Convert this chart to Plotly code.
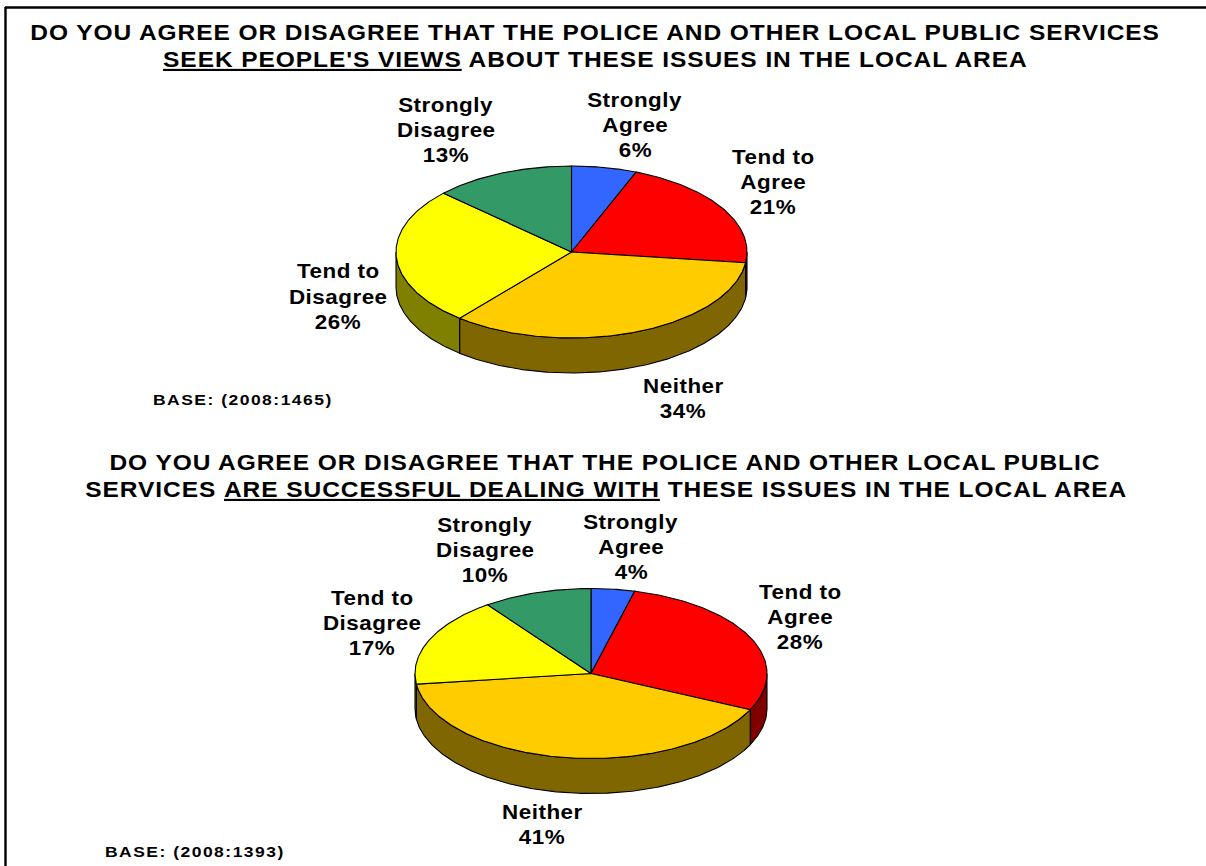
import math
import plotly.graph_objects as go

categories = ["Strongly Agree", "Tend to Agree", "Neither", "Tend to Disagree", "Strongly Disagree"]
values_seek = [6, 21, 34, 26, 13]
values_success = [4, 28, 41, 17, 10]
top_colors = ["#3366FF", "#FF0000", "#FFCC00", "#FFFF00", "#339966"]
side_colors = ["#1A3380", "#800000", "#806600", "#808000", "#1A4D33"]

title_seek = ["DO YOU AGREE OR DISAGREE THAT THE POLICE AND OTHER LOCAL PUBLIC SERVICES",
              "<u>SEEK PEOPLE'S VIEWS</u> ABOUT THESE ISSUES IN THE LOCAL AREA"]
title_success = ["DO YOU AGREE OR DISAGREE THAT THE POLICE AND OTHER LOCAL PUBLIC",
                 "SERVICES <u>ARE SUCCESSFUL DEALING WITH</u> THESE ISSUES IN THE LOCAL AREA"]
base_seek = "BASE: (2008:1465)"
base_success = "BASE: (2008:1393)"

FONT = "Liberation Sans, Arial, sans-serif"
W, H = 1206, 866
fig = go.Figure()


def pt(cx, cy, rx, ry, deg, dz=0):
    a = math.radians(deg)
    return cx + rx * math.sin(a), cy - ry * math.cos(a) + dz


def arc(cx, cy, rx, ry, a0, a1, dz=0):
    n = max(2, int(abs(a1 - a0) * 1.5) + 1)
    pts = [pt(cx, cy, rx, ry, a0 + (a1 - a0) * i / (n - 1), dz) for i in range(n)]
    return [p[0] for p in pts], [p[1] for p in pts]


def add_poly(xs, ys, fill, name):
    fig.add_trace(go.Scatter(x=xs + xs[:1], y=ys + ys[:1], mode="lines", fill="toself",
                             fillcolor=fill, line=dict(color="#000000", width=1.1),
                             name=name, showlegend=False, hoverinfo="name"))


def add_pie(values, cx, cy, rx, ry, depth):
    total = sum(values)
    edges = [0]
    for v in values:
        edges.append(edges[-1] + 360 * v / total)
    for i, name in enumerate(categories):
        a0, a1 = max(edges[i], 90), min(edges[i + 1], 270)
        if a1 <= a0:
            continue
        tx, ty = arc(cx, cy, rx, ry, a0, a1)
        bx, by = arc(cx, cy, rx, ry, a1, a0, depth)
        add_poly(tx + bx, ty + by, side_colors[i], name)
    for i, name in enumerate(categories):
        tx, ty = arc(cx, cy, rx, ry, edges[i], edges[i + 1])
        add_poly([cx] + tx, [cy] + ty, top_colors[i], name)


add_pie(values_seek, 571.5, 252, 175.5, 86, 35)
add_pie(values_success, 591, 673.5, 176, 85, 35)


def text(x, y, s, size, anchor="center"):
    fig.add_annotation(x=x, y=y, xref="x", yref="y", text=s, showarrow=False,
                       xanchor=anchor, yanchor="middle", align="center",
                       font=dict(family=FONT, size=size, color="#000000"))


def bold(s):
    return "<b>" + s + "</b>"


TS = 21.5
text(595, 33, bold(title_seek[0]), TS)
text(595, 60, bold(title_seek[1]), TS)
text(605, 463, bold(title_success[0]), TS)
text(606, 490, bold(title_success[1]), TS)

LS = 20


def label(x, ys, lines):
    for y, s in zip(ys, lines):
        text(x, y, bold(s), LS)


def pct(v):
    return str(v) + "%"


label(635, [100, 125, 150], ["Strongly", "Agree", pct(values_seek[0])])
label(773, [157, 182, 207], ["Tend to", "Agree", pct(values_seek[1])])
label(683, [386, 411], ["Neither", pct(values_seek[2])])
label(338, [271, 297, 322], ["Tend to", "Disagree", pct(values_seek[3])])
label(446, [105, 130, 155], ["Strongly", "Disagree", pct(values_seek[4])])

label(631, [522, 547, 572], ["Strongly", "Agree", pct(values_success[0])])
label(800, [592, 617, 642], ["Tend to", "Agree", pct(values_success[1])])
label(542, [812, 837], ["Neither", pct(values_success[2])])
label(372, [598, 623, 648], ["Tend to", "Disagree", pct(values_success[3])])
label(485, [525, 550, 575], ["Strongly", "Disagree", pct(values_success[4])])

text(243, 400, bold(base_seek), 14)
text(195, 852, bold(base_success), 14)

fig.add_shape(type="line", xref="x", yref="y", x0=5, x1=W, y0=7.5, y1=7.5, line=dict(color="#000", width=2.4))
fig.add_shape(type="line", xref="x", yref="y", x0=5.5, x1=5.5, y0=7, y1=H, line=dict(color="#000", width=2.4))

fig.update_xaxes(visible=False, range=[0, W], fixedrange=True)
fig.update_yaxes(visible=False, range=[H, 0], fixedrange=True)
fig.update_layout(width=W, height=H, margin=dict(l=0, r=0, t=0, b=0), autosize=False,
                  paper_bgcolor="#FFFFFF", plot_bgcolor="#FFFFFF", showlegend=False)

# The reference's text is horizontally stretched and widely tracked; plotly fonts have no such option.
post = """
document.body.style.margin='0';document.body.style.overflow='hidden';
document.querySelectorAll('.annotation-text').forEach(function(t){
  var fs=parseFloat(t.style.fontSize), sx, ls;
  if(fs>21){sx=1.14;ls=0.82;} else if(fs>15){sx=1.12;ls=0.45;} else {sx=1.25;ls=1.2;}
  t.style.letterSpacing=ls+'px';
  var x=parseFloat(t.getAttribute('x'))||0;
  t.setAttribute('transform','translate('+x+' 0) scale('+sx+' 1) translate('+(-x)+' 0)');
});
"""
fig.write_html("out.html", config={"displayModeBar": False}, post_script=post)
